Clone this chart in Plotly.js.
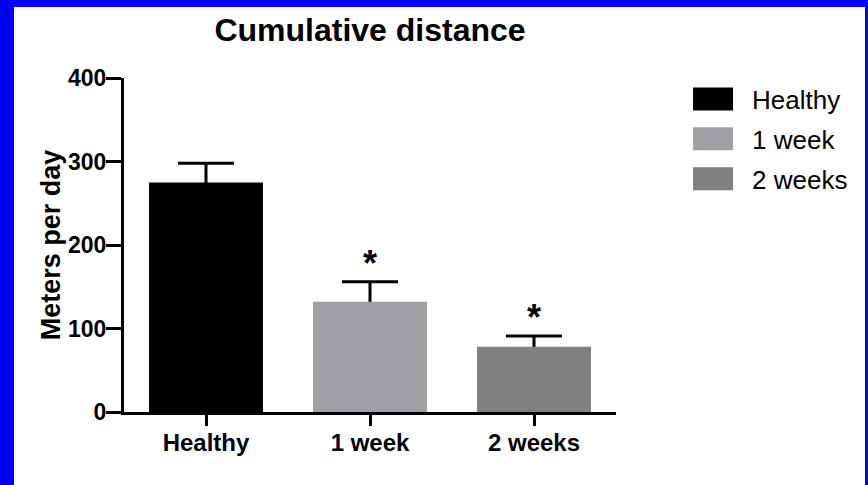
<!DOCTYPE html>
<html>
<head>
<meta charset="utf-8">
<script src="https://cdn.plot.ly/plotly-3.0.1.min.js"></script>
<style>
  html, body { margin: 0; padding: 0; background: #0000ff; width: 868px; height: 485px; overflow: hidden; }
  #chart { position: absolute; left: 14px; top: 7px; width: 851px; height: 478px; background: #ffffff; }
</style>
</head>
<body>
<div id="chart"></div>
<script>
// ---- data ----
const categories = ["Healthy", "1 week", "2 weeks"];
const meters = [275, 132, 78];
const sem = [23, 24, 13];
const significance = ["", "*", "*"];
const yTickValues = [0, 100, 200, 300, 400];

// ---- styles ----
const barColors = ["#000000", "#a0a0a4", "#808080"];
const FONT = "Liberation Sans, Arial, Helvetica, sans-serif";

// error bars drawn first (under the bars), so only the upper half shows
const errorTrace = {
  type: "bar",
  name: "SEM",
  x: categories,
  y: meters,
  showlegend: false,
  marker: { color: "rgba(0,0,0,0)", line: { width: 0 } },
  error_y: {
    type: "data", symmetric: true, array: sem,
    color: "#000000", thickness: 3, width: 28
  },
  hoverinfo: "skip"
};

const barTraces = categories.map((c, i) => ({
  type: "bar",
  name: c,
  x: [c],
  y: [meters[i]],
  legendgroup: "g" + i,
  marker: { color: barColors[i], line: { width: 0 } },
  hoverinfo: "x+y"
}));

const annotations = categories.map((c, i) => ({
  x: c, y: meters[i] + sem[i], xref: "x", yref: "y",
  text: significance[i], showarrow: false,
  yanchor: "bottom", yshift: -4,
  font: { family: FONT, size: 36, color: "#000000", weight: "bold" }
})).filter(a => a.text !== "");

const layout = {
  width: 851, height: 478,
  margin: { l: 110, r: 242, t: 70.5, b: 72.5, pad: 0 },
  paper_bgcolor: "#ffffff", plot_bgcolor: "#ffffff",
  font: { family: FONT, color: "#000000" },
  barmode: "overlay",
  bargap: 0.305,
  title: {
    text: "Cumulative distance",
    font: { family: FONT, size: 32, weight: "bold", color: "#000000" },
    x: 0.5, xref: "paper", xanchor: "center",
    y: 0.952, yref: "container", yanchor: "middle"
  },
  xaxis: {
    type: "category",
    categoryorder: "array", categoryarray: categories,
    range: [-0.5, 2.5],
    showline: true, linecolor: "#000000", linewidth: 3,
    ticks: "outside", ticklen: 11, tickwidth: 3, tickcolor: "#000000",
    ticklabelstandoff: -4,
    tickfont: { family: FONT, size: 24, weight: "bold", color: "#000000" },
    showgrid: false, zeroline: false, fixedrange: true
  },
  yaxis: {
    range: [0, 400],
    tickvals: yTickValues,
    ticktext: yTickValues.map(String),
    showline: true, linecolor: "#000000", linewidth: 3,
    ticks: "outside", ticklen: 15, tickwidth: 3, tickcolor: "#000000",
    ticklabelstandoff: -5,
    tickfont: { family: FONT, size: 23, weight: "bold", color: "#000000" },
    showgrid: false, zeroline: false, fixedrange: true,
    title: {
      text: "Meters per day",
      font: { family: FONT, size: 27, weight: "bold", color: "#000000" },
      standoff: 0
    }
  },
  showlegend: true,
  legend: {
    x: 1.118, xanchor: "left", y: 1.007, yanchor: "top",
    font: { family: FONT, size: 26, color: "#000000" },
    itemwidth: 68, tracegroupgap: 3,
    bgcolor: "rgba(0,0,0,0)", borderwidth: 0,
    traceorder: "grouped"
  },
  annotations: annotations
};

Plotly.newPlot("chart", [errorTrace].concat(barTraces), layout, { displayModeBar: false, staticPlot: true })
  .then(gd => {
    // enlarge the legend keys to the 40x23 blocks of the reference
    gd.querySelectorAll(".legend .traces .legendpoints path").forEach(p => {
      const t = p.getAttribute("transform") || "";
      p.setAttribute("transform", t + " scale(3.333,1.917)");
    });
  });
</script>
</body>
</html>
